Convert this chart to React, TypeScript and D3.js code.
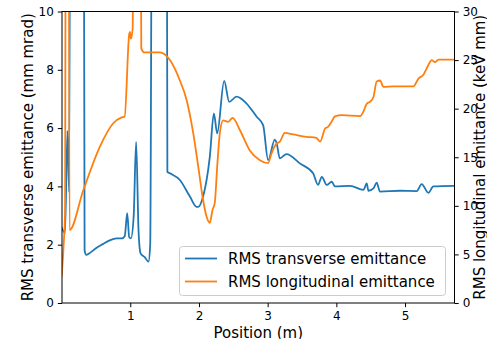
import { useEffect, useRef } from 'react';
import * as d3 from 'd3';

// positions (m) and RMS transverse emittance (mm mrad)
const transversePos = [0.0, 0.05, 0.085, 0.11, 0.14, 0.31, 0.335, 0.36, 0.4, 0.5, 0.6, 0.7, 0.8, 0.88, 0.92, 0.955, 0.985, 1.01, 1.05, 1.085, 1.12, 1.15, 1.21, 1.265, 1.29, 1.335, 1.52, 1.54, 1.577, 1.722, 1.868, 1.965, 1.99, 2.06, 2.158, 2.217, 2.265, 2.367, 2.44, 2.547, 2.69, 2.84, 2.934, 3.007, 3.104, 3.129, 3.177, 3.274, 3.468, 3.661, 3.734, 3.788, 3.86, 3.933, 3.98, 4.2, 4.394, 4.442, 4.467, 4.54, 4.587, 4.636, 4.927, 5.17, 5.242, 5.34, 5.412, 5.712];
const transverseVals = [2.6, 2.4, 5.9, 3.8, 30, 30, 1.8, 1.65, 1.7, 1.88, 2.02, 2.15, 2.22, 2.22, 2.3, 3.08, 2.25, 2.22, 3.0, 5.53, 2.5, 1.7, 1.57, 1.42, 2.0, 30, 30, 4.5, 4.45, 4.22, 3.65, 3.3, 3.3, 3.65, 5.02, 6.5, 5.82, 7.62, 6.9, 7.08, 6.85, 6.39, 6.1, 4.9, 5.6, 5.5, 4.96, 5.11, 4.79, 4.45, 4.05, 4.33, 4.05, 4.16, 4.0, 4.02, 3.88, 4.1, 3.85, 3.93, 4.13, 3.82, 3.85, 3.84, 4.08, 3.78, 4.0, 4.02];

// positions (m) and RMS longitudinal emittance (keV mm)
const longitudinalPos = [0.0, 0.03, 0.05, 0.07, 0.095, 0.115, 0.316, 0.558, 0.752, 0.874, 0.918, 0.985, 0.995, 1.01, 1.035, 1.06, 1.13, 1.16, 1.2, 1.3, 1.43, 1.5, 1.577, 1.722, 1.82, 1.916, 1.99, 2.06, 2.11, 2.158, 2.197, 2.23, 2.265, 2.304, 2.352, 2.425, 2.49, 2.595, 2.74, 2.886, 3.007, 3.056, 3.129, 3.177, 3.25, 3.37, 3.565, 3.71, 3.764, 3.84, 3.875, 3.93, 3.98, 4.078, 4.345, 4.394, 4.442, 4.49, 4.54, 4.587, 4.636, 4.685, 4.83, 5.122, 5.195, 5.268, 5.34, 5.388, 5.437, 5.486, 5.712];
const longitudinalVals = [2.7, 6.0, 9.3, 90, 90, 7.5, 11.6, 16.1, 18.5, 19.1, 19.2, 27.7, 27.9, 27.2, 28.3, 90, 90, 26.2, 25.8, 25.8, 25.8, 25.6, 25.0, 22.9, 20.9, 17.5, 14.0, 10.6, 8.9, 8.26, 9.57, 10.3, 14.0, 17.5, 18.8, 18.65, 19.06, 17.8, 15.7, 14.7, 14.4, 15.4, 16.4, 16.6, 17.5, 17.35, 17.1, 17.0, 16.6, 18.0, 18.1, 18.65, 19.2, 19.34, 19.24, 19.7, 20.5, 20.7, 21.2, 22.8, 22.9, 22.25, 22.3, 22.3, 23.1, 23.5, 24.5, 25.0, 24.8, 25.05, 25.05];

const xTicks = [1, 2, 3, 4, 5];
const leftTicks = [0, 2, 4, 6, 8, 10];
const rightTicks = [0, 5, 10, 15, 20, 25, 30];

const seriesNames = ['RMS transverse emittance', 'RMS longitudinal emittance'];
const colors = ['#1f77b4', '#ff7f0e'];

export default function App() {
  const svgRef = useRef<SVGSVGElement>(null);

  useEffect(() => {
    const width = 487, height = 339;
    const svg = d3.select(svgRef.current).attr('width', width).attr('height', height);
    svg.selectAll('*').remove();

    const left = 62, right = 454.5, top = 11.5, bottom = 303;
    const font = 'DejaVu Sans, sans-serif';

    const x = d3.scaleLinear().domain([0.006, 5.72]).range([left, right]);
    const yL = d3.scaleLinear().domain([0, 10]).range([bottom, top]);
    const yR = d3.scaleLinear().domain([0, 30]).range([bottom, top]);

    svg.append('defs').append('clipPath').attr('id', 'plot-clip')
      .append('rect').attr('x', left).attr('y', top)
      .attr('width', right - left).attr('height', bottom - top);

    const plot = svg.append('g').attr('clip-path', 'url(#plot-clip)');

    const line = d3.line<[number, number]>().curve(d3.curveMonotoneX);

    plot.append('path')
      .datum(transversePos.map((p, i) => [x(p), yL(transverseVals[i])] as [number, number]))
      .attr('fill', 'none').attr('stroke', colors[0]).attr('stroke-width', 1.8)
      .attr('stroke-linejoin', 'round').attr('d', line);

    plot.append('path')
      .datum(longitudinalPos.map((p, i) => [x(p), yR(longitudinalVals[i])] as [number, number]))
      .attr('fill', 'none').attr('stroke', colors[1]).attr('stroke-width', 1.8)
      .attr('stroke-linejoin', 'round').attr('d', line);

    // frame
    svg.append('rect')
      .attr('x', left).attr('y', top).attr('width', right - left).attr('height', bottom - top)
      .attr('fill', 'none').attr('stroke', '#000').attr('stroke-width', 1);

    const styleAxis = (g: any) => {
      g.select('.domain').remove();
      g.selectAll('line').attr('stroke', '#000').attr('stroke-width', 1);
      g.selectAll('text').attr('font-family', font).attr('font-size', 12).attr('fill', '#000');
    };

    svg.append('g').attr('transform', `translate(0,${bottom})`)
      .call(d3.axisBottom(x).tickValues(xTicks).tickSize(4.2).tickPadding(4).tickFormat(d3.format('d')))
      .call(styleAxis);

    svg.append('g').attr('transform', `translate(${left},0)`)
      .call(d3.axisLeft(yL).tickValues(leftTicks).tickSize(4.2).tickPadding(4).tickFormat(d3.format('d')))
      .call(styleAxis);

    svg.append('g').attr('transform', `translate(${right},0)`)
      .call(d3.axisRight(yR).tickValues(rightTicks).tickSize(4.2).tickPadding(4).tickFormat(d3.format('d')))
      .call(styleAxis);

    // axis labels
    svg.append('text')
      .attr('x', (left + right) / 2).attr('y', 337.5)
      .attr('text-anchor', 'middle').attr('font-family', font).attr('font-size', 15)
      .text('Position (m)');

    svg.append('text')
      .attr('transform', `translate(33,${(top + bottom) / 2}) rotate(-90)`)
      .attr('text-anchor', 'middle').attr('font-family', font).attr('font-size', 15)
      .text('RMS transverse emittance (mm mrad)');

    svg.append('text')
      .attr('transform', `translate(485,${(top + bottom) / 2}) rotate(-90)`)
      .attr('text-anchor', 'middle').attr('font-family', font).attr('font-size', 15)
      .text('RMS longitudinal emittance (keV mm)');

    // legend
    const legend = svg.append('g');
    legend.append('rect')
      .attr('x', 179.5).attr('y', 246.5).attr('width', 266).attr('height', 49).attr('rx', 3)
      .attr('fill', '#fff').attr('fill-opacity', 0.8).attr('stroke', '#cccccc').attr('stroke-width', 1);

    seriesNames.forEach((name, i) => {
      const ly = 258.5 + i * 23;
      legend.append('line')
        .attr('x1', 185).attr('x2', 217).attr('y1', ly).attr('y2', ly)
        .attr('stroke', colors[i]).attr('stroke-width', 1.8);
      legend.append('text')
        .attr('x', 228).attr('y', ly + 5.5)
        .attr('font-family', font).attr('font-size', 15).attr('fill', '#000')
        .text(name);
    });
  }, []);

  return (
    <svg ref={svgRef} style={{ position: 'absolute', left: 0, top: 0, background: '#fff' }} />
  );
}
